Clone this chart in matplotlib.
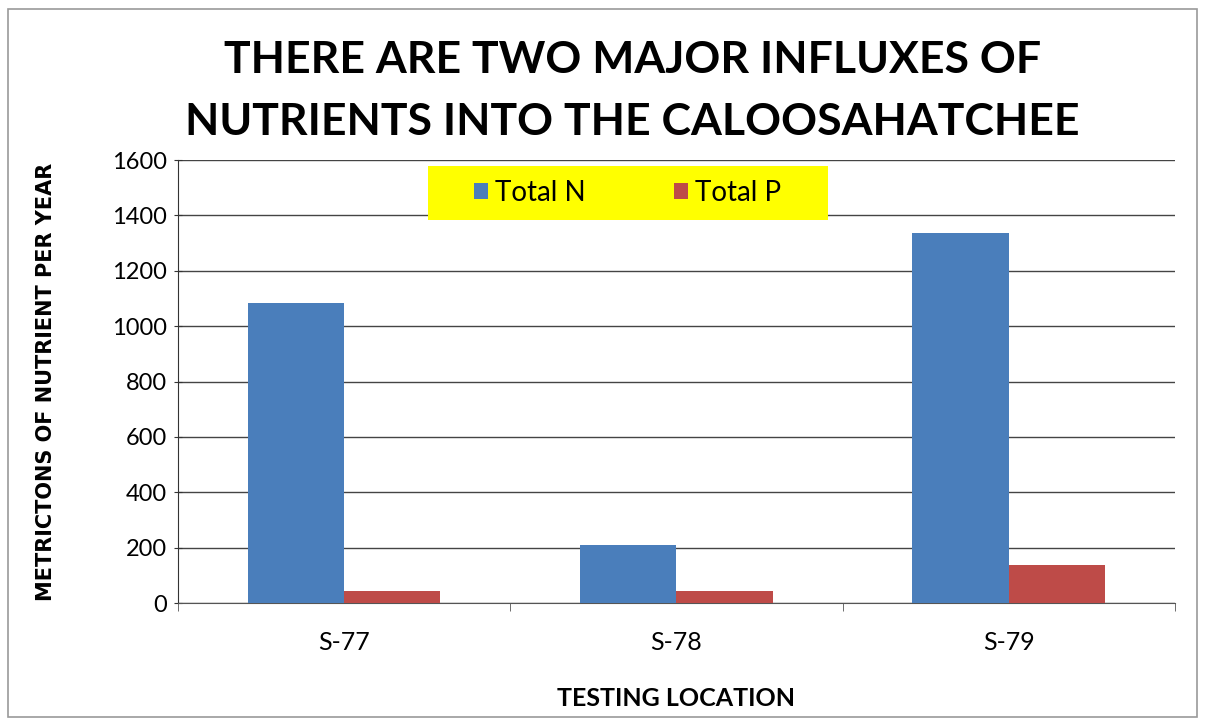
import matplotlib.pyplot as plt
import numpy as np
from matplotlib.patches import Rectangle

locations = ["S-77", "S-78", "S-79"]
total_n = [1083, 209, 1336]
total_p = [45, 43, 137]
y_ticks = [0, 200, 400, 600, 800, 1000, 1200, 1400, 1600]

fig = plt.figure(figsize=(12.05, 7.26), dpi=100)
fig.patches.append(Rectangle((0.007, 0.012), 0.986, 0.976, transform=fig.transFigure,
                             fill=False, edgecolor="#9a9a9a", linewidth=1.2))

ax = fig.add_axes([0.1477, 0.1694, 0.8273, 0.6102])
x = np.arange(len(locations))
w = 0.29
ax.bar(x - w / 2, total_n, width=w, color="#4a7ebb", label="Total N", zorder=3)
ax.bar(x + w / 2, total_p, width=w, color="#be4b48", label="Total P", zorder=3)

ax.set_xlim(-0.5, 2.5)
ax.set_ylim(0, 1600)
ax.set_yticks(y_ticks)
ax.set_yticklabels([str(t) for t in y_ticks], fontsize=17, family="Lato")
ax.set_xticks(x)
ax.set_xticklabels(locations, fontsize=18, family="Lato")
ax.set_xticks([-0.5, 0.5, 1.5, 2.5], minor=True)
ax.tick_params(axis="x", which="major", length=0, pad=20)
ax.tick_params(axis="x", which="minor", length=6, direction="out", color="#555555")
ax.tick_params(axis="y", length=6, direction="inout", color="#333333", pad=5)
ax.yaxis.grid(True, color="#444444", linewidth=1.0, zorder=0)
for s in ["top", "right"]:
    ax.spines[s].set_visible(False)
ax.spines["left"].set_color("#333333")
ax.spines["bottom"].set_color("#555555")

ax.set_xlabel("TESTING LOCATION", fontsize=18, fontweight="bold", family="Lato", labelpad=24)
ax.set_ylabel("METRICTONS OF NUTRIENT PER YEAR", fontsize=15, fontweight="bold",
              family="DejaVu Sans", labelpad=40)

fig.text(0.525, 0.917, "THERE ARE TWO MAJOR INFLUXES OF", ha="center", va="center",
         fontsize=32, fontweight="bold", family="Lato")
fig.text(0.525, 0.832, "NUTRIENTS INTO THE CALOOSAHATCHEE", ha="center", va="center",
         fontsize=32, fontweight="bold", family="Lato")

# yellow legend box, wider than the legend entries
ax.add_patch(Rectangle((0.251, 0.865), 0.401, 0.121, transform=ax.transAxes,
                       facecolor="#ffff00", edgecolor="none", zorder=4))
leg = ax.legend(loc="center", bbox_to_anchor=(0.451, 0.925), ncol=2, frameon=False,
                prop={"family": "Lato", "size": 20}, handlelength=0.5,
                handleheight=0.5, handletextpad=0.25, columnspacing=3.2)
leg.set_zorder(5)

fig.savefig("out.png", dpi=100)
